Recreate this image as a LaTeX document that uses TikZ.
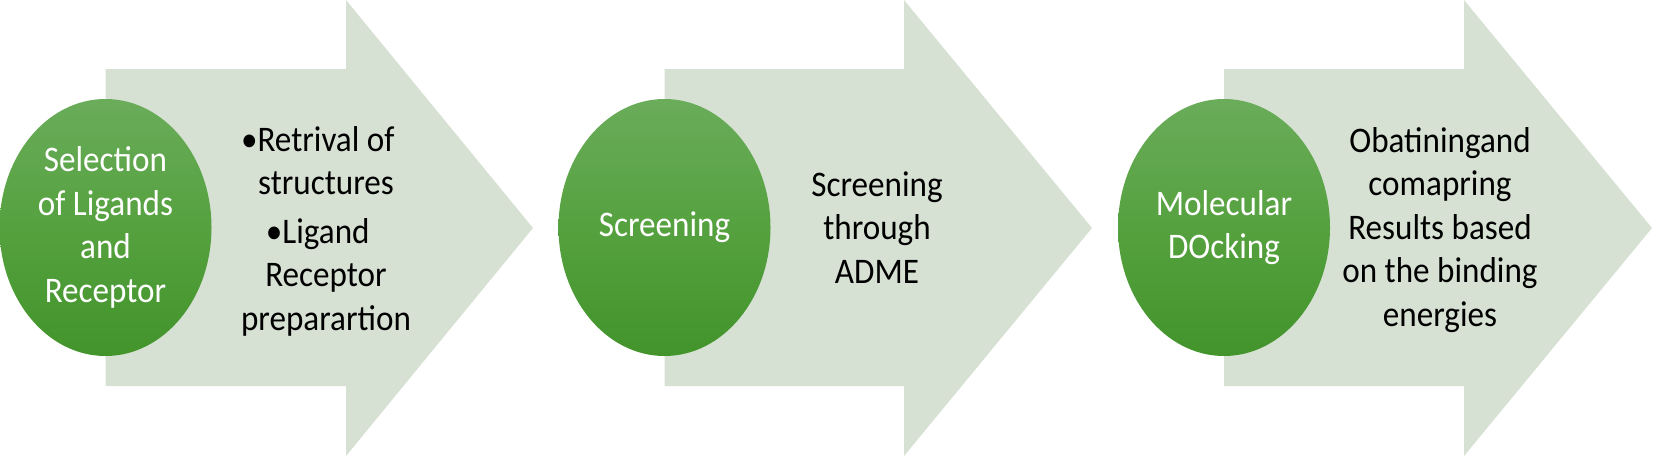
\documentclass[tikz,border=0pt]{standalone}
\usepackage{fontspec}
\setmainfont{Carlito}[FakeStretch=0.92]
\usetikzlibrary{shapes.geometric}
\definecolor{arrowfill}{HTML}{D6E1D3}
\definecolor{ovaltop}{HTML}{6AAC5A}
\definecolor{ovalmid}{HTML}{55A13F}
\definecolor{ovalbot}{HTML}{42942B}
\tikzset{
  bigarrow/.style={fill=arrowfill, draw=none},
  oval/.style={ellipse, inner sep=0pt, minimum width=106pt, minimum height=128.5pt,
    top color=ovaltop, bottom color=ovalbot, middle color=ovalmid, draw=none,
    text=white, align=center, font=\fontsize{18}{21.75}\selectfont},
  desc/.style={anchor=base, align=center, text=black, inner sep=0pt,
    font=\fontsize{18}{21.75}\selectfont}
}
\begin{document}
\begin{tikzpicture}[x=0.5pt,y=-0.5pt]
\useasboundingbox (0,0) rectangle (1654,456);
% arrows
\fill[bigarrow] (105.5,69) -- (346,69) -- (346,0) -- (533,228) -- (346,456) -- (346,386) -- (105.5,386) -- cycle;
\fill[bigarrow] (664.5,69) -- (904,69) -- (904,0) -- (1092,228) -- (904,456) -- (904,386) -- (664.5,386) -- cycle;
\fill[bigarrow] (1224,69) -- (1464,69) -- (1464,0) -- (1652,228) -- (1464,456) -- (1464,386) -- (1224,386) -- cycle;
% ovals
\node[oval] (o1) at (105.5,227.5) {Selection\\of Ligands\\and\\Receptor};
\node[oval] (o2) at (664.5,227.5) {Screening};
\node[oval] (o3) at (1224,227.5) {Molecular\\DOcking};
% descriptions (anchor = baseline of last line)
\node[desc] (d1) at (326,330) {\llap{•}Retrival of\\structures\\[2.5pt]\llap{•}Ligand\\Receptor\\preparartion};
\node[desc] (d2) at (877,283) {Screening\\through\\ADME};
\node[desc] (d3) at (1440,326) {Obatiningand\\comapring\\Results based\\on the binding\\energies};
\end{tikzpicture}
\end{document}
